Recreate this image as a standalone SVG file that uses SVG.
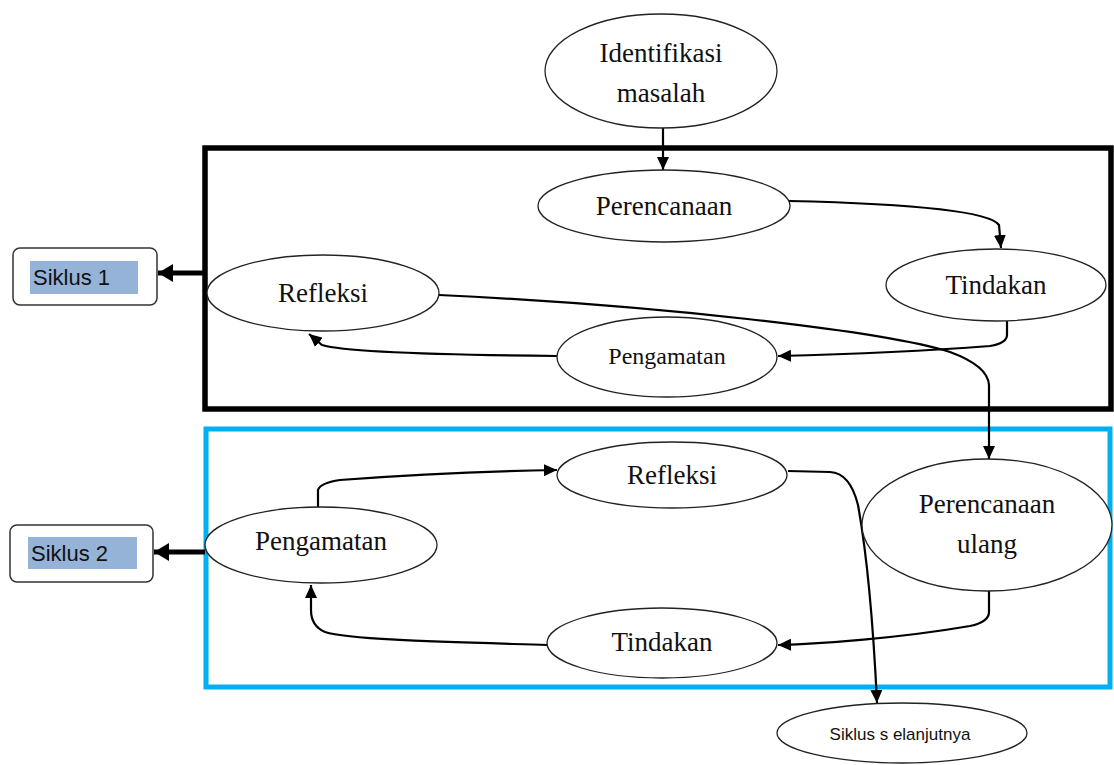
<svg xmlns="http://www.w3.org/2000/svg" width="1114" height="765" viewBox="0 0 1114 765">
<defs>
<style>
.node{fill:#fff;stroke:#222;stroke-width:1.3}
.lbl{font-family:"Liberation Serif","Times New Roman",serif;font-size:27px;fill:#111;text-anchor:middle}
.sans{font-family:"Liberation Sans",Arial,sans-serif;fill:#111}
.conn{fill:none;stroke:#000;stroke-width:2.2}
.thick{fill:none;stroke:#000;stroke-width:5}
.sbox{fill:#fff;stroke:#333;stroke-width:1.5}
.hl{fill:#95B3D7}
</style>
<marker id="ah" markerUnits="userSpaceOnUse" markerWidth="14" markerHeight="12" refX="13" refY="6" orient="auto">
<path d="M0,0 L13,6 L0,12 Z" fill="#000"/>
</marker>
<marker id="ahb" markerUnits="userSpaceOnUse" markerWidth="16" markerHeight="18" refX="15" refY="9" orient="auto">
<path d="M0,0 L15,9 L0,18 Z" fill="#000"/>
</marker>
</defs>

<rect x="205" y="148" width="906" height="261" fill="none" stroke="#000" stroke-width="5.5"/>
<rect x="206" y="429" width="904" height="258" fill="none" stroke="#00B0F0" stroke-width="5"/>

<g id="connectors">
<path class="conn" d="M663,128 L663,170" marker-end="url(#ah)"/>
<path class="conn" d="M789,201 C920,204 990,212 999,225 L1001,248" marker-end="url(#ah)"/>
<path class="conn" d="M1007,321 L1007,335 Q1007,343 990,346 C900,353 820,355 778,356" marker-end="url(#ah)"/>
<path class="conn" d="M557,356 C450,355 345,352 322,345 L309,334" marker-end="url(#ah)"/>
<path class="conn" d="M439,295 C650,305 880,330 950,352 Q988,366 989,385 L989,459" marker-end="url(#ah)"/>
<path class="conn" d="M989,591 L989,612 Q989,622 970,626 C900,638 820,644 778,645" marker-end="url(#ah)"/>
<path class="conn" d="M547,645 C450,642 350,640 325,632 Q311,626 311,610 L311,585" marker-end="url(#ah)"/>
<path class="conn" d="M318,507 L318,490 Q320,483 340,480 C420,474 500,471 557,470" marker-end="url(#ah)"/>
<path class="conn" d="M788,471 L830,472 Q850,473 858,505 C868,560 874,640 877,703" marker-end="url(#ah)"/>
<path class="thick" d="M205,273 L158,273" marker-end="url(#ahb)"/>
<path class="thick" d="M205,552 L154,552" marker-end="url(#ahb)"/>
</g>

<g id="identifikasi">
<ellipse class="node" cx="661" cy="71" rx="116" ry="57"/>
<text class="lbl" x="661" y="62">Identifikasi</text>
<text class="lbl" x="661" y="102">masalah</text>
</g>
<g id="perencanaan">
<ellipse class="node" cx="664" cy="206" rx="126" ry="36"/>
<text class="lbl" x="664" y="215">Perencanaan</text>
</g>
<g id="tindakan1">
<ellipse class="node" cx="996" cy="285" rx="110" ry="36"/>
<text class="lbl" x="996" y="294">Tindakan</text>
</g>
<g id="refleksi1">
<ellipse class="node" cx="323" cy="293" rx="116" ry="38"/>
<text class="lbl" x="323" y="302">Refleksi</text>
</g>
<g id="pengamatan1">
<ellipse class="node" cx="667" cy="357" rx="110" ry="40"/>
<text class="lbl" x="667" y="364" style="font-size:24px">Pengamatan</text>
</g>
<g id="refleksi2">
<ellipse class="node" cx="672" cy="475" rx="115" ry="33"/>
<text class="lbl" x="672" y="484">Refleksi</text>
</g>
<g id="perencanaan-ulang">
<ellipse class="node" cx="987" cy="525" rx="125" ry="66"/>
<text class="lbl" x="987" y="513">Perencanaan</text>
<text class="lbl" x="987" y="553">ulang</text>
</g>
<g id="pengamatan2">
<ellipse class="node" cx="321" cy="545" rx="116" ry="38"/>
<text class="lbl" x="321" y="550">Pengamatan</text>
</g>
<g id="tindakan2">
<ellipse class="node" cx="662" cy="643" rx="115" ry="35"/>
<text class="lbl" x="662" y="651">Tindakan</text>
</g>
<g id="siklus-selanjutnya">
<ellipse class="node" cx="902" cy="733" rx="125" ry="30"/>
<text class="sans" x="900" y="740" style="font-size:17px;text-anchor:middle">Siklus s elanjutnya</text>
</g>
<g id="siklus1">
<rect class="sbox" x="13" y="248" width="144" height="57" rx="7"/>
<rect class="hl" x="30" y="261" width="108" height="33"/>
<text class="sans" x="33" y="285" style="font-size:22px">Siklus 1</text>
</g>
<g id="siklus2">
<rect class="sbox" x="10" y="525" width="143" height="57" rx="7"/>
<rect class="hl" x="28" y="537" width="109" height="32"/>
<text class="sans" x="31" y="561" style="font-size:22px">Siklus 2</text>
</g>
</svg>
